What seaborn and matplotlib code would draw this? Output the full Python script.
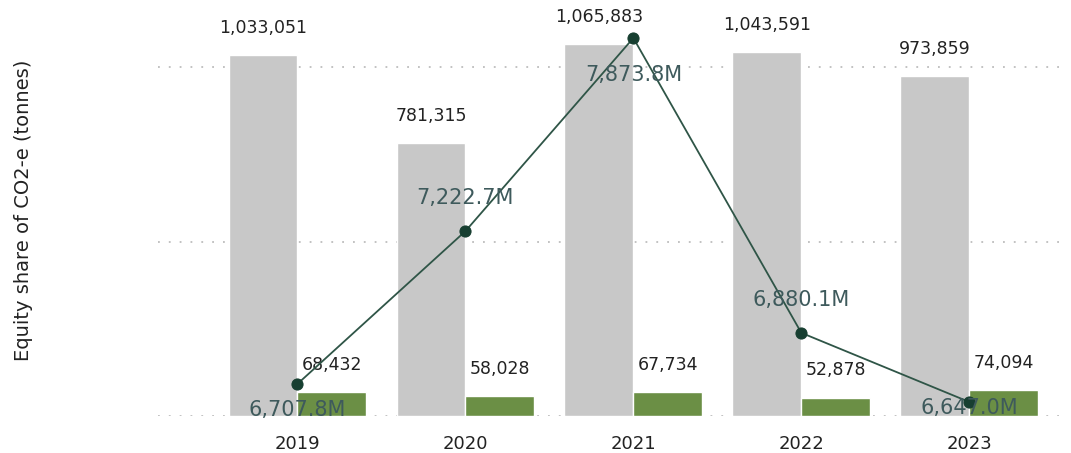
import numpy as np
import pandas as pd
import matplotlib.pyplot as plt
import seaborn as sns

years = ["2019", "2020", "2021", "2022", "2023"]
grey_vals = [1033051, 781315, 1065883, 1043591, 973859]
green_vals = [68432, 58028, 67734, 52878, 74094]
line_vals = [6707.8, 7222.7, 7873.8, 6880.1, 6647.0]  # millions
# pixel offset of each line label from its point (+ above, - below)
line_label_offset = [-26, 33, -37, 33, -6]

sns.set_theme(style="white")
plt.rcParams["font.family"] = ["DejaVu Sans"]

df = pd.DataFrame({
    "Year": years * 2,
    "Value": grey_vals + green_vals,
    "Series": ["grey"] * len(years) + ["green"] * len(years),
})

fig = plt.figure(figsize=(10.71, 4.53), dpi=100)
ax = fig.add_axes([158 / 1071, 37 / 453, (1060 - 158) / 1071, 396 / 453])

sns.barplot(data=df, x="Year", y="Value", hue="Series", order=years,
            palette={"grey": "#c8c8c8", "green": "#6b8f45"}, width=0.82,
            gap=0, saturation=1, legend=False, ax=ax)

for cont in ax.containers:
    ax.bar_label(cont, labels=[f"{v:,.0f}" for v in cont.datavalues],
                 padding=13, fontsize=12.5, color="#222222")

ax.set_ylim(0, 1.1347e6)
ax.set_xlim(-0.83, 4.54)
ax.set_yticks([0, 500000, 1000000])
ax.yaxis.grid(True, linestyle=(0, (1, 5)), color="#bdbdbd", linewidth=1.3)
ax.set_axisbelow(True)
ax.set_xlabel("")
ax.set_ylabel("Equity share of CO2-e (tonnes)", fontsize=14, color="#222222")
ax.yaxis.set_label_coords(-0.139, 0.52)
for s in ax.spines.values():
    s.set_visible(False)

ax2 = ax.twinx()
pos = np.arange(len(years))
sns.lineplot(x=pos, y=line_vals, ax=ax2, color="#2f5547", linewidth=1.3,
             marker="o", markersize=8, markerfacecolor="#173f31",
             markeredgecolor="#173f31")
ax2.set_ylim(6599.8, 7934.5)
ax2.set_xlim(-0.83, 4.54)
ax2.set_yticks([])
ax2.set_ylabel("")
for s in ax2.spines.values():
    s.set_visible(False)

ax.tick_params(axis="y", left=False, right=False, labelleft=False, length=0)
ax.tick_params(axis="x", bottom=False, labelsize=13, colors="#222222", pad=8)

for x, v, off in zip(pos, line_vals, line_label_offset):
    ax2.annotate(f"{v:,.1f}M", (x, v), xytext=(0, off),
                 textcoords="offset pixels",
                 ha="center", va="center", fontsize=15, color="#3e5a5c")

fig.savefig("out.png", dpi=100)
